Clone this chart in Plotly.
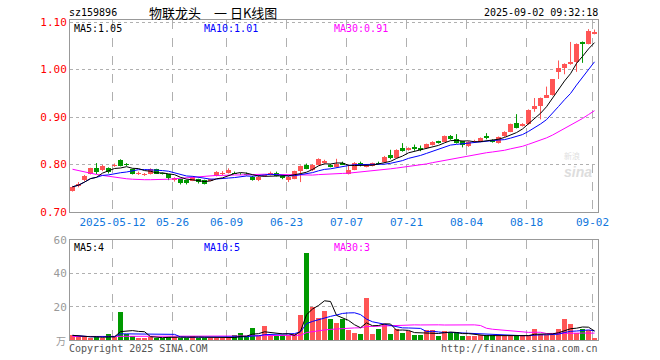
import plotly.graph_objects as go
import pandas as pd

# ---------------- data ----------------
code_label = "sz159896"
title_text = "物联龙头\u3000一 日K线图"
stamp_text = "2025-09-02 09:32:18"

opens = [0.745, 0.755, 0.767, 0.781, 0.792, 0.788, 0.792, 0.797, 0.809, 0.802,
         0.790, 0.781, 0.778, 0.781, 0.790, 0.782, 0.779, 0.767, 0.769, 0.767,
         0.766, 0.769, 0.767, 0.766, 0.776, 0.781, 0.783, 0.783, 0.780, 0.781,
         0.774, 0.767, 0.775, 0.778, 0.783, 0.776, 0.767, 0.770, 0.786, 0.798,
         0.789, 0.799, 0.803, 0.800, 0.795, 0.804, 0.780, 0.789, 0.804, 0.795,
         0.797, 0.804, 0.805, 0.820, 0.814, 0.834, 0.830, 0.837, 0.834, 0.834,
         0.841, 0.849, 0.848, 0.860, 0.853, 0.849, 0.838, 0.848, 0.848, 0.860,
         0.851, 0.845, 0.859, 0.869, 0.888, 0.881, 0.885, 0.916, 0.923, 0.941,
         0.946, 0.995, 1.003, 1.012, 1.016, 1.058, 1.054, 1.075]
highs = [0.755, 0.763, 0.778, 0.793, 0.803, 0.799, 0.794, 0.802, 0.811, 0.803,
         0.791, 0.785, 0.782, 0.792, 0.791, 0.783, 0.780, 0.773, 0.770, 0.768,
         0.775, 0.770, 0.768, 0.770, 0.786, 0.786, 0.792, 0.785, 0.782, 0.783,
         0.776, 0.776, 0.778, 0.785, 0.785, 0.777, 0.776, 0.787, 0.798, 0.802,
         0.801, 0.813, 0.810, 0.801, 0.812, 0.806, 0.799, 0.805, 0.806, 0.801,
         0.804, 0.806, 0.818, 0.831, 0.832, 0.845, 0.836, 0.842, 0.840, 0.844,
         0.849, 0.850, 0.861, 0.862, 0.864, 0.850, 0.849, 0.852, 0.857, 0.866,
         0.853, 0.859, 0.870, 0.886, 0.906, 0.887, 0.916, 0.940, 0.941, 0.964,
         0.980, 1.019, 1.013, 1.058, 1.055, 1.059, 1.085, 1.084]
lows = [0.743, 0.752, 0.765, 0.779, 0.780, 0.786, 0.781, 0.795, 0.796, 0.797,
        0.779, 0.778, 0.776, 0.779, 0.780, 0.779, 0.767, 0.764, 0.758, 0.758,
        0.765, 0.760, 0.758, 0.765, 0.775, 0.777, 0.781, 0.780, 0.778, 0.777,
        0.766, 0.765, 0.774, 0.777, 0.775, 0.769, 0.763, 0.769, 0.763, 0.790,
        0.786, 0.798, 0.802, 0.794, 0.794, 0.799, 0.779, 0.788, 0.796, 0.794,
        0.796, 0.800, 0.804, 0.811, 0.813, 0.827, 0.829, 0.829, 0.828, 0.833,
        0.840, 0.844, 0.847, 0.852, 0.844, 0.836, 0.837, 0.846, 0.847, 0.853,
        0.846, 0.844, 0.858, 0.868, 0.876, 0.880, 0.884, 0.911, 0.895, 0.940,
        0.945, 0.980, 0.990, 1.010, 0.995, 1.014, 1.053, 1.074]
closes = [0.753, 0.760, 0.776, 0.792, 0.784, 0.797, 0.785, 0.800, 0.797, 0.798,
          0.780, 0.782, 0.779, 0.790, 0.781, 0.780, 0.771, 0.771, 0.762, 0.762,
          0.773, 0.763, 0.760, 0.769, 0.784, 0.783, 0.788, 0.781, 0.779, 0.778,
          0.767, 0.774, 0.777, 0.783, 0.776, 0.771, 0.774, 0.786, 0.797, 0.791,
          0.800, 0.812, 0.807, 0.795, 0.802, 0.800, 0.788, 0.804, 0.798, 0.800,
          0.803, 0.801, 0.816, 0.813, 0.831, 0.828, 0.835, 0.833, 0.831, 0.843,
          0.848, 0.846, 0.860, 0.854, 0.846, 0.841, 0.848, 0.850, 0.856, 0.855,
          0.847, 0.858, 0.869, 0.885, 0.877, 0.885, 0.915, 0.923, 0.939, 0.946,
          0.979, 1.003, 1.012, 1.016, 1.054, 1.053, 1.082, 1.078]
volumes = [2.8, 2.0, 2.0, 1.0, 2.0, 1.0, 3.4, 2.0, 16.8, 3.8,
           2.2, 1.0, 1.0, 2.0, 1.5, 1.5, 2.0, 2.0, 1.5, 1.5,
           2.4, 1.5, 1.5, 1.0, 1.5, 1.0, 1.0, 2.8, 4.4, 2.4,
           7.0, 2.4, 8.4, 2.4, 2.4, 2.8, 2.8, 3.4, 14.8, 52.0,
           20.0, 13.4, 17.4, 12.8, 10.4, 12.4, 5.8, 4.4, 3.8, 25.0,
           3.8, 6.4, 9.4, 3.4, 6.4, 4.4, 5.2, 2.8, 2.8, 5.8,
           5.8, 2.4, 5.2, 4.6, 4.6, 2.4, 2.4, 2.4, 2.8, 2.8,
           2.8, 2.4, 2.4, 2.4, 2.4, 3.0, 3.0, 6.4, 3.4, 2.8,
           2.8, 6.4, 12.4, 9.4, 4.4, 6.4, 5.8, 1.0]

# MA30 values at the start of the window (their 30-day window begins before the chart)
price_ma30_head = [0.790, 0.787, 0.784, 0.781, 0.779, 0.777, 0.775, 0.773, 0.771, 0.770,
                   0.769, 0.768, 0.768, 0.768, 0.768, 0.768, 0.769, 0.770, 0.771, 0.772,
                   0.774, 0.775, 0.776, 0.776, 0.777, 0.777, 0.778, 0.778, 0.778]
vol_ma30_head = [2.1, 2.1, 2.1, 2.1, 2.1, 2.1, 2.1, 2.1, 2.1, 2.1,
                 2.1, 2.1, 2.1, 2.1, 2.1, 2.1, 2.1, 2.1, 2.1, 2.1,
                 2.1, 2.1, 2.1, 2.1, 2.1, 2.2, 2.2, 2.2, 2.3]

tick_index = [7, 17, 26, 36, 46, 56, 66, 76, 87]
tick_labels = ["2025-05-12", "05-26", "06-09", "06-23", "07-07", "07-21", "08-04", "08-18", "09-02"]

price_ticks = [0.70, 0.80, 0.90, 1.00, 1.10]
vol_ticks = [20, 40, 60]

legend_price = ["MA5:1.05", "MA10:1.01", "MA30:0.91"]
legend_vol = ["MA5:4", "MA10:5", "MA30:3"]

# ---------------- derived ----------------
n = len(closes)
idx = list(range(n))
cs = pd.Series(closes)
ma5 = cs.rolling(5, min_periods=1).mean().tolist()
ma10 = cs.rolling(10, min_periods=1).mean().tolist()
ma30 = cs.rolling(30).mean().tolist()
ma30[:len(price_ma30_head)] = price_ma30_head

vs = pd.Series(volumes)
vma5 = vs.rolling(5, min_periods=1).mean().tolist()
vma10 = vs.rolling(10, min_periods=1).mean().tolist()
vma30 = vs.rolling(30).mean().tolist()
vma30[:len(vol_ma30_head)] = vol_ma30_head

RED = "#ff5555"
GREEN = "#009900"
up = [c >= o for o, c in zip(opens, closes)]
colors = [RED if u else GREEN for u in up]
body_base = [min(o, c) for o, c in zip(opens, closes)]
body_h = [max(abs(c - o), 0.0018) for o, c in zip(opens, closes)]

fig = go.Figure()

# wicks
for flag, col in ((True, RED), (False, GREEN)):
    wx, wy = [], []
    for i in idx:
        if up[i] == flag:
            wx += [i, i, None]
            wy += [lows[i], highs[i], None]
    fig.add_trace(go.Scatter(x=wx, y=wy, mode="lines", line=dict(color=col, width=1),
                             xaxis="x", yaxis="y", hoverinfo="skip", showlegend=False))

# bodies
fig.add_trace(go.Bar(x=idx, y=body_h, base=body_base, marker=dict(color=colors, line=dict(width=0)),
                     width=0.8, xaxis="x", yaxis="y", showlegend=False, hoverinfo="skip"))

for ys, col in ((ma30, "#ff00ff"), (ma10, "#0000ff"), (ma5, "#000000")):
    fig.add_trace(go.Scatter(x=idx, y=ys, mode="lines", line=dict(color=col, width=1),
                             xaxis="x", yaxis="y", showlegend=False, hoverinfo="skip"))

# volume
fig.add_trace(go.Bar(x=idx, y=volumes, marker=dict(color=colors, line=dict(width=0)), width=0.8,
                     xaxis="x2", yaxis="y2", showlegend=False, hoverinfo="skip"))
for ys, col in ((vma30, "#ff00ff"), (vma10, "#0000ff"), (vma5, "#000000")):
    fig.add_trace(go.Scatter(x=idx, y=ys, mode="lines", line=dict(color=col, width=1),
                             xaxis="x2", yaxis="y2", showlegend=False, hoverinfo="skip"))

# ---------------- layout ----------------
L, R, T, B = 70, 62, 20, 20
W, H = 660, 360
PW, PH = W - L - R, H - T - B


def px(xp):
    return (xp - L) / PW


def py(yp):
    return (H - B - yp) / PH


MONO = "DejaVu Sans Mono"
xr = [-0.42, n - 0.42]
grid_ticks = [t - 0.33 for t in tick_index]

axis_common = dict(showline=True, mirror=True, linecolor="#999999", linewidth=1,
                   zeroline=False, ticks="", fixedrange=True, automargin=False)

fig.update_layout(
    width=W, height=H,
    margin=dict(l=L, r=R, t=T, b=B, autoexpand=False),
    paper_bgcolor="white", plot_bgcolor="white",
    bargap=0, barmode="overlay",
    font=dict(family=MONO, size=10, color="#000"),
    xaxis=dict(domain=[0, 1], anchor="y", range=xr, tickmode="array",
               tickvals=grid_ticks, ticktext=tick_labels,
               tickfont=dict(family=MONO, size=11, color="#1177dd"),
               showgrid=True, gridcolor="#b0b0b0", griddash="dash", gridwidth=1,
               **axis_common),
    yaxis=dict(domain=[(H - B - 212) / PH, 1], anchor="x",
               range=[0.70, 0.70 + 192 / 475], tickmode="array",
               tickvals=price_ticks, ticktext=[f"{v:.2f}" for v in price_ticks],
               tickfont=dict(family=MONO, size=11, color="#ff0000"),
               showgrid=True, gridcolor="#b0b0b0", griddash="dot", gridwidth=1,
               **axis_common),
    xaxis2=dict(domain=[0, 1], anchor="y2", range=xr, tickmode="array",
                tickvals=grid_ticks, showticklabels=False,
                showgrid=True, gridcolor="#b0b0b0", griddash="dash", gridwidth=1,
                **axis_common),
    yaxis2=dict(domain=[0, (H - B - 240) / PH], anchor="x2", range=[0, 60],
                tickmode="array", tickvals=vol_ticks, ticktext=[str(v) for v in vol_ticks],
                tickfont=dict(family=MONO, size=11, color="#999999"),
                showgrid=True, gridcolor="#b0b0b0", griddash="dot", gridwidth=1,
                **axis_common),
)

ann = []


def add(text, x, y, xanchor="left", color="#000", size=10, family=MONO, **kw):
    ann.append(dict(text=text, x=px(x), y=py(y), xref="paper", yref="paper",
                    xanchor=xanchor, yanchor="middle", showarrow=False,
                    font=dict(family=family, size=size, color=color), **kw))


add(code_label, 67, 12)
add(title_text, 213, 12, xanchor="center", size=13, family="Noto Sans CJK SC")
add(stamp_text, 600, 12, xanchor="right")
pc = ["#000000", "#0000ff", "#ff00ff"]
for t, xx, c in zip(legend_price, (72, 202, 332), pc):
    add(t, xx, 28, color=c)
for t, xx, c in zip(legend_vol, (72, 202, 332), pc):
    add(t, xx, 247, color=c)
add("万", 68, 340, xanchor="right", color="#999999", size=10, family="Noto Sans CJK SC")
add("Copyright 2025 SINA.COM", 67, 348, color="#555555")
add("http://finance.sina.com.cn", 600, 348, xanchor="right", color="#555555")
add("<i><b>sina</b></i>", 578, 172, xanchor="center", color="#dddddd", size=14, family="Liberation Sans")
add("新浪", 572, 155, xanchor="center", color="#e0e0e0", size=8, family="Noto Sans CJK SC")

fig.update_layout(annotations=ann)
fig.write_html("out.html",
               config={"displayModeBar": False, "staticPlot": True},
               post_script="document.body.style.margin='0';document.body.style.overflow='hidden';")
